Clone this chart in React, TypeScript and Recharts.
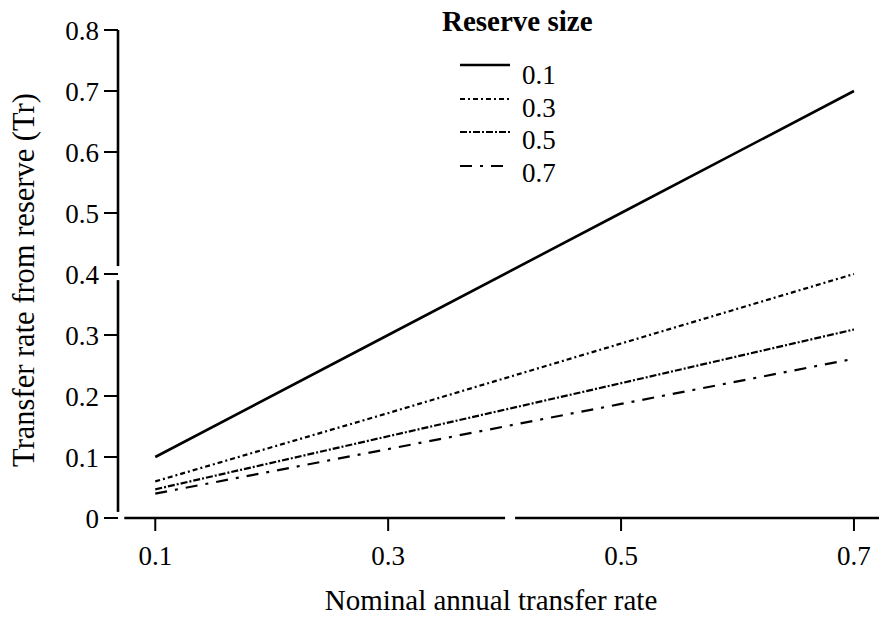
import React from 'react';
import { LineChart, Line, XAxis, YAxis, ReferenceLine, Legend } from 'recharts';

// nominal annual transfer rate (x) and Tr for each reserve size
const nominalRate = [0.1, 0.3, 0.5, 0.7];
const reserve01 = [0.1, 0.3, 0.5, 0.7];
const reserve03 = [0.06, 0.172, 0.286, 0.4];
const reserve05 = [0.047, 0.134, 0.221, 0.309];
const reserve07 = [0.04, 0.113, 0.187, 0.261];

const xTicks = [0.1, 0.3, 0.5, 0.7];
const yTicks = [0, 0.1, 0.2, 0.3, 0.4, 0.5, 0.6, 0.7, 0.8];

const X_DOMAIN: [number, number] = [0.068, 0.7215];
const Y_DOMAIN: [number, number] = [0, 0.8];

const FONT = '"Liberation Serif", "Times New Roman", serif';

const series = [
  { key: 'r01', label: '0.1', dash: undefined, width: 2.6 },
  { key: 'r03', label: '0.3', dash: '5 3 2 3', width: 2.2 },
  { key: 'r05', label: '0.5', dash: '7 2 2 2', width: 2.2 },
  { key: 'r07', label: '0.7', dash: '12 8 3 8', width: 2.2 },
];

const rows = nominalRate.map((x, i) => ({
  x,
  r01: reserve01[i],
  r03: reserve03[i],
  r05: reserve05[i],
  r07: reserve07[i],
}));

const renderLegend = () => (
  <div style={{ position: 'relative', width: 0, height: 0, fontFamily: FONT }}>
    <div
      style={{
        position: 'absolute',
        left: 442,
        top: 5,
        fontSize: 29,
        fontWeight: 'bold',
        whiteSpace: 'nowrap',
      }}
    >
      Reserve size
    </div>
    {series.map((s, i) => (
      <div key={s.key} style={{ position: 'absolute', left: 460, top: 52 + i * 33.5, whiteSpace: 'nowrap' }}>
        <svg width={52} height={30} style={{ position: 'absolute', left: 0, top: 0 }}>
          <line x1={0} y1={13} x2={50} y2={13} stroke="#000" strokeWidth={s.width} strokeDasharray={s.dash} />
        </svg>
        <span style={{ position: 'absolute', left: 62, top: 8 - i * 1, fontSize: 27, lineHeight: '30px' }}>{s.label}</span>
      </div>
    ))}
  </div>
);

export default function App() {
  return (
    <div style={{ position: 'absolute', left: 0, top: 0, background: '#fff' }}>
      <LineChart width={879} height={621} data={rows} margin={{ top: 30, right: 0, bottom: 0, left: 0 }}>
        <XAxis
          dataKey="x"
          type="number"
          domain={X_DOMAIN}
          ticks={xTicks}
          allowDataOverflow
          axisLine={false}
          tickLine={{ stroke: '#000', strokeWidth: 2 }}
          tickSize={13}
          tickMargin={15}
          height={103}
          tick={{ fontFamily: FONT, fontSize: 27, fill: '#000' }}
          tickFormatter={(v: number) => v.toFixed(1)}
          label={() => (
            <text x={491} y={610} textAnchor="middle" fontFamily={FONT} fontSize={29} fill="#000">
              Nominal annual transfer rate
            </text>
          )}
        />
        <YAxis
          type="number"
          domain={Y_DOMAIN}
          ticks={yTicks}
          allowDataOverflow
          axisLine={false}
          tickLine={{ stroke: '#000', strokeWidth: 2 }}
          tickSize={14}
          tickMargin={5}
          width={118}
          tick={{ fontFamily: FONT, fontSize: 27, fill: '#000' }}
          tickFormatter={(v: number) => (v === 0 ? '0' : v.toFixed(1))}
          label={() => (
            <text
              transform="translate(34,280) rotate(-90)"
              textAnchor="middle"
              fontFamily={FONT}
              fontSize={30.5}
              fill="#000"
            >
              Transfer rate from reserve (Tr)
            </text>
          )}
        />
        {/* broken axis lines */}
        <ReferenceLine segment={[{ x: 0.068, y: 0.8 }, { x: 0.068, y: 0.413 }]} stroke="#000" strokeWidth={2.6} ifOverflow="visible" />
        <ReferenceLine segment={[{ x: 0.068, y: 0.39 }, { x: 0.068, y: 0.01 }]} stroke="#000" strokeWidth={2.6} ifOverflow="visible" />
        <ReferenceLine segment={[{ x: 0.0734, y: 0 }, { x: 0.4004, y: 0 }]} stroke="#000" strokeWidth={2.6} ifOverflow="visible" />
        <ReferenceLine segment={[{ x: 0.409, y: 0 }, { x: 0.7215, y: 0 }]} stroke="#000" strokeWidth={2.6} ifOverflow="visible" />
        {series.map((s) => (
          <Line
            key={s.key}
            dataKey={s.key}
            name={s.label}
            type="linear"
            stroke="#000"
            strokeWidth={s.width}
            strokeDasharray={s.dash}
            dot={false}
            activeDot={false}
            isAnimationActive={false}
          />
        ))}
        <Legend
          layout="vertical"
          align="center"
          verticalAlign="middle"
          content={renderLegend}
          wrapperStyle={{ left: 0, top: 0, width: 0, height: 0 }}
        />
      </LineChart>
    </div>
  );
}
